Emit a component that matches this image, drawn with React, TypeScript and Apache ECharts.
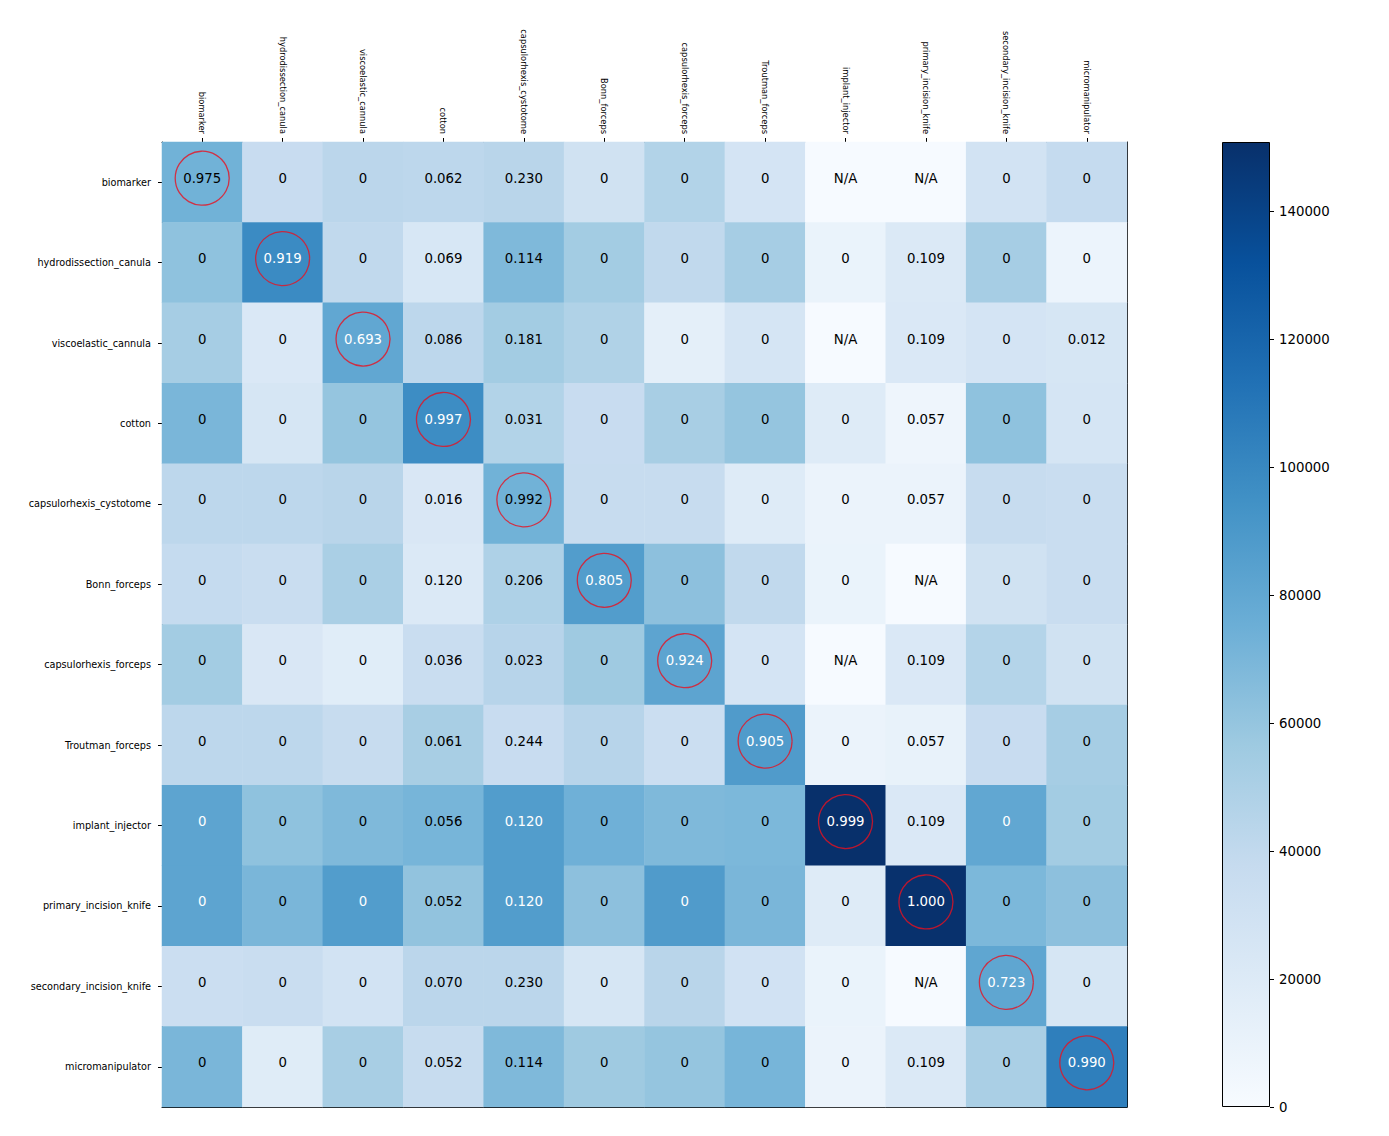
import React, { useEffect, useRef } from "react";
import * as echarts from "echarts";

const categories = [
  "biomarker",
  "hydrodissection_canula",
  "viscoelastic_cannula",
  "cotton",
  "capsulorhexis_cystotome",
  "Bonn_forceps",
  "capsulorhexis_forceps",
  "Troutman_forceps",
  "implant_injector",
  "primary_incision_knife",
  "secondary_incision_knife",
  "micromanipulator",
];

// colour values (counts) per row
const colorRows: number[][] = [
  [73000, 36000, 43000, 42000, 44000, 30000, 47000, 27000, 1000, 1000, 28000, 38000],
  [62000, 98000, 40000, 24000, 68000, 54000, 40000, 53000, 10000, 21000, 53000, 8000],
  [53000, 22000, 80000, 42000, 54000, 48000, 14000, 26000, 1000, 22000, 27000, 25000],
  [70000, 25000, 60000, 97000, 47000, 36000, 52000, 60000, 19000, 7000, 62000, 26000],
  [42000, 42000, 44000, 23000, 73000, 37000, 37000, 19000, 9000, 9000, 37000, 35000],
  [38000, 35000, 51000, 21000, 49000, 87000, 63000, 40000, 10000, 1000, 30000, 35000],
  [54000, 23000, 17000, 35000, 45000, 56000, 82000, 27000, 1000, 22000, 46000, 30000],
  [42000, 42000, 37000, 52000, 36000, 45000, 34000, 88000, 9000, 11000, 36000, 53000],
  [82000, 62000, 68000, 71000, 87000, 74000, 68000, 69000, 150800, 22000, 80000, 54000],
  [82000, 70000, 87000, 61000, 87000, 63000, 88000, 70000, 19000, 150000, 69000, 63000],
  [34000, 35000, 28000, 43000, 43000, 25000, 44000, 29000, 10000, 1000, 81000, 25000],
  [70000, 18000, 52000, 37000, 68000, 56000, 60000, 71000, 9000, 21000, 51000, 105000],
];

const labelRows: string[][] = [
  ["0.975", "0", "0", "0.062", "0.230", "0", "0", "0", "N/A", "N/A", "0", "0"],
  ["0", "0.919", "0", "0.069", "0.114", "0", "0", "0", "0", "0.109", "0", "0"],
  ["0", "0", "0.693", "0.086", "0.181", "0", "0", "0", "N/A", "0.109", "0", "0.012"],
  ["0", "0", "0", "0.997", "0.031", "0", "0", "0", "0", "0.057", "0", "0"],
  ["0", "0", "0", "0.016", "0.992", "0", "0", "0", "0", "0.057", "0", "0"],
  ["0", "0", "0", "0.120", "0.206", "0.805", "0", "0", "0", "N/A", "0", "0"],
  ["0", "0", "0", "0.036", "0.023", "0", "0.924", "0", "N/A", "0.109", "0", "0"],
  ["0", "0", "0", "0.061", "0.244", "0", "0", "0.905", "0", "0.057", "0", "0"],
  ["0", "0", "0", "0.056", "0.120", "0", "0", "0", "0.999", "0.109", "0", "0"],
  ["0", "0", "0", "0.052", "0.120", "0", "0", "0", "0", "1.000", "0", "0"],
  ["0", "0", "0", "0.070", "0.230", "0", "0", "0", "0", "N/A", "0.723", "0"],
  ["0", "0", "0", "0.052", "0.114", "0", "0", "0", "0", "0.109", "0", "0.990"],
];

// [column, row] of circled cells
const circledCells: number[][] = [
  [0, 0], [1, 1], [2, 2], [3, 3], [4, 4], [5, 5],
  [6, 6], [7, 7], [8, 8], [9, 9], [10, 10], [11, 11],
];

const colorMax = 150800;
const colorTickInterval = 20000;

const blues = [
  "#f7fbff", "#deebf7", "#c6dbef", "#9ecae1", "#6baed6",
  "#4292c6", "#2171b5", "#08519c", "#08306b",
];

const FONT = "DejaVu Sans";

export default function App() {
  const ref = useRef<HTMLDivElement>(null);

  useEffect(() => {
    if (!ref.current) return;
    const chart = echarts.init(ref.current, undefined, { renderer: "svg" });

    const heatData: any[] = [];
    colorRows.forEach((row, r) => {
      row.forEach((v, c) => {
        heatData.push({
          value: [c, r, v],
          label: { color: v > colorMax / 2 ? "#ffffff" : "#000000" },
        });
      });
    });

    const gradStops = blues
      .slice()
      .reverse()
      .map((c, i) => ({ offset: i / (blues.length - 1), color: c }));

    const axisLine = { show: true, lineStyle: { color: "#000", width: 1 } };

    chart.setOption({
      animation: false,
      backgroundColor: "#ffffff",
      textStyle: { fontFamily: FONT },
      grid: [
        { left: 154, top: 134, width: 965, height: 965 },
        { left: 1214, top: 134, width: 48, height: 965 },
      ],
      xAxis: [
        {
          type: "category",
          gridIndex: 0,
          data: categories,
          position: "top",
          axisLine,
          axisTick: { show: true, alignWithLabel: true, length: 4, lineStyle: { color: "#000" } },
          axisLabel: {
            interval: 0,
            rotate: 90,
            fontSize: 8.3,
            color: "#000",
            fontFamily: FONT,
            margin: 8,
          },
          splitLine: { show: false },
        },
        {
          type: "category",
          gridIndex: 0,
          data: categories,
          position: "bottom",
          axisLine,
          axisTick: { show: false },
          axisLabel: { show: false },
        },
        {
          type: "category",
          gridIndex: 1,
          data: ["scale"],
          show: false,
        },
      ],
      yAxis: [
        {
          type: "category",
          gridIndex: 0,
          data: categories,
          inverse: true,
          position: "left",
          axisLine,
          axisTick: { show: true, alignWithLabel: true, length: 4, lineStyle: { color: "#000" } },
          axisLabel: {
            interval: 0,
            fontSize: 9.7,
            color: "#000",
            fontFamily: FONT,
            margin: 11,
          },
          splitLine: { show: false },
        },
        {
          type: "category",
          gridIndex: 0,
          data: categories,
          inverse: true,
          position: "right",
          axisLine,
          axisTick: { show: false },
          axisLabel: { show: false },
        },
        {
          type: "value",
          gridIndex: 1,
          position: "right",
          min: 0,
          max: colorMax,
          interval: colorTickInterval,
          axisLine: { show: false },
          axisTick: { show: true, length: 4, lineStyle: { color: "#000" } },
          axisLabel: {
            fontSize: 13.3,
            color: "#000",
            fontFamily: FONT,
            margin: 9,
            showMaxLabel: false,
            formatter: (v: number) => String(v),
          },
          splitLine: { show: false },
        },
      ],
      visualMap: {
        show: false,
        seriesIndex: 0,
        dimension: 2,
        min: 0,
        max: colorMax,
        inRange: { color: blues },
      },
      series: [
        {
          type: "heatmap",
          xAxisIndex: 0,
          yAxisIndex: 0,
          data: heatData,
          label: {
            show: true,
            fontSize: 13.3,
            fontFamily: FONT,
            offset: [0, -4],
            formatter: (p: any) => labelRows[p.value[1]][p.value[0]],
          },
          itemStyle: { borderWidth: 0 },
          emphasis: { disabled: true },
        },
        {
          type: "scatter",
          xAxisIndex: 0,
          yAxisIndex: 0,
          data: circledCells,
          symbol: "circle",
          symbolSize: 54,
          symbolOffset: [0, -4],
          itemStyle: {
            color: "rgba(0,0,0,0)",
            borderColor: "#e8101f",
            borderWidth: 1.3,
          },
          z: 5,
          silent: true,
        },
        {
          type: "bar",
          xAxisIndex: 2,
          yAxisIndex: 2,
          data: [colorMax],
          barWidth: "100%",
          itemStyle: {
            color: new echarts.graphic.LinearGradient(0, 0, 0, 1, gradStops),
            borderColor: "#000",
            borderWidth: 1,
          },
          silent: true,
        },
      ],
    });

    return () => chart.dispose();
  }, []);

  return <div ref={ref} style={{ width: 1373, height: 1120 }} />;
}
